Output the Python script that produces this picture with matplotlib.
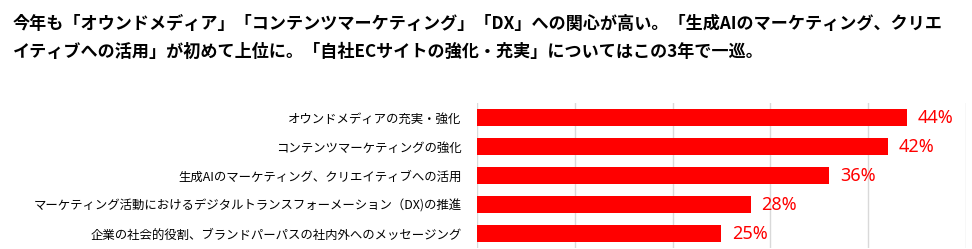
import matplotlib.pyplot as plt
import numpy as np

plt.rcParams['font.family'] = ['Noto Sans CJK JP', 'DejaVu Sans']

# 項目と割合(%)
categories = [
    'オウンドメディアの充実・強化',
    'コンテンツマーケティングの強化',
    '生成AIのマーケティング、クリエイティブへの活用',
    'マーケティング活動におけるデジタルトランスフォーメーション（DX)の推進',
    '企業の社会的役割、ブランドパーパスの社内外へのメッセージング',
]
values = [44, 42, 36, 28, 25]
value_labels = ['44%', '42%', '36%', '28%', '25%']

title_lines = [
    '今年も「オウンドメディア」「コンテンツマーケティング」「DX」への関心が高い。「生成AIのマーケティング、クリエ',
    'イティブへの活用」が初めて上位に。「自社ECサイトの強化・充実」についてはこの3年で一巡。',
]

fig = plt.figure(figsize=(9.72, 2.49), dpi=100)
ax = fig.add_axes([0.4907, 0.004, 0.5031, 0.582])

y = np.arange(len(categories))
ax.barh(y, values, height=0.59, color='#ff0000', zorder=3)

for yi, v, lab in zip(y, values, value_labels):
    ax.text(v + 1.1, yi, lab, color='#ff0000', fontsize=13, va='center',
            ha='left', family=['Noto Sans', 'DejaVu Sans'])

ax.set_yticks(y)
ax.set_yticklabels(categories, fontsize=8.95)
ax.tick_params(axis='y', length=0, pad=11)
ax.set_ylim(len(categories) - 0.5, -0.5)

ax.set_xlim(0, 50)
ax.set_xticks(np.arange(0, 51, 10))
ax.xaxis.grid(True, color='#d9d9d9', linewidth=1, zorder=0)
ax.tick_params(axis='x', length=0, labelbottom=False)
for s in ['top', 'right', 'bottom', 'left']:
    ax.spines[s].set_visible(False)

# タイトル(2行)
fig.text(0.013, 0.905, title_lines[0], fontsize=12.3, fontweight='bold',
         va='center', ha='left')
fig.text(0.013, 0.79, title_lines[1], fontsize=12.3, fontweight='bold',
         va='center', ha='left')

fig.savefig('out.png', dpi=100)
